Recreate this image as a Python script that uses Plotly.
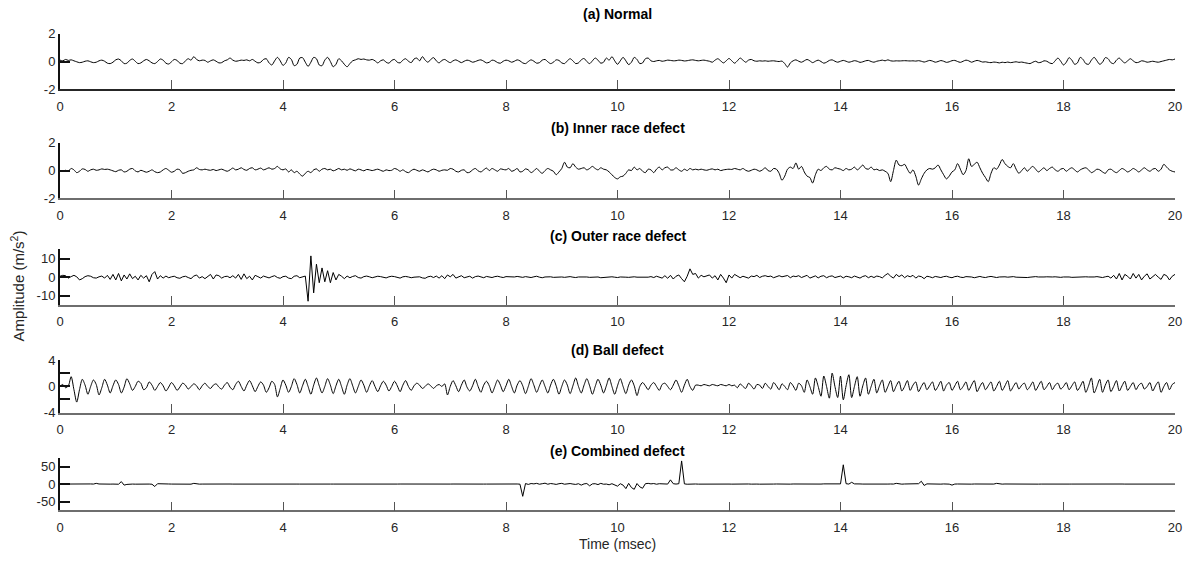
import numpy as np
import plotly.graph_objects as go

# ---------------- data (0.05 ms sampling) ----------------
DT = 0.05
normal = [
 0.10, 0.05, 0.15, 0.08, 0.12, 0.05, -0.02, -0.08, -0.05, 0.02, 0.05, -0.02, -0.08, -0.05, 0.05, 0.10, 0.02, -0.12, -0.15, -0.05,
 0.12, 0.18, 0.05, -0.15, -0.12, 0.08, 0.18, 0.02, -0.15, -0.10, 0.05, 0.15, 0.05, -0.10, -0.15, 0.00, 0.18, 0.10, -0.12, -0.18,
 -0.02, 0.15, 0.08, -0.12, -0.15, 0.05, 0.20, 0.10, 0.35, 0.15, 0.05, 0.10, 0.08, -0.05, 0.05, 0.12, 0.02, -0.10, -0.08, 0.05,
 0.12, 0.25, 0.10, 0.02, 0.05, 0.10, 0.08, 0.12, 0.05, 0.15, 0.02, -0.10, -0.05, 0.15, 0.20, -0.10, -0.25, 0.05, 0.30, 0.05,
 -0.28, -0.10, 0.30, 0.15, -0.30, -0.20, 0.25, 0.28, -0.05, -0.35, -0.05, 0.30, 0.20, -0.25, -0.30, 0.10, 0.30, 0.00, -0.38, -0.20,
 0.20, 0.05, -0.20, -0.38, -0.15, 0.05, 0.12, 0.20, 0.15, 0.18, 0.12, 0.10, 0.15, 0.05, -0.10, 0.05, 0.12, -0.05, -0.12, 0.08,
 0.15, -0.05, -0.10, 0.10, 0.20, 0.02, -0.08, 0.18, 0.25, 0.05, 0.35, 0.10, -0.05, 0.15, 0.28, 0.05, -0.10, 0.08, 0.15, 0.02,
 -0.08, 0.05, 0.12, 0.02, -0.08, 0.02, 0.10, 0.05, -0.05, 0.00, 0.08, 0.12, 0.02, -0.10, -0.05, 0.10, 0.05, -0.08, -0.12, 0.02,
 0.10, 0.05, -0.05, 0.02, 0.12, 0.05, -0.10, -0.15, 0.00, 0.12, 0.02, -0.12, -0.08, 0.10, 0.15, -0.02, -0.15, -0.05, 0.12, 0.08,
 -0.10, -0.15, 0.05, 0.20, 0.05, -0.15, -0.10, 0.12, 0.22, 0.00, -0.15, 0.05, 0.25, 0.10, -0.12, -0.05, 0.25, 0.10, 0.35, 0.05,
 -0.20, 0.05, 0.30, 0.05, -0.22, -0.05, 0.30, 0.15, -0.15, -0.10, 0.20, 0.25, 0.05, 0.00, 0.05, 0.08, 0.02, 0.05, 0.10, 0.08,
 0.05, 0.06, 0.10, 0.08, 0.04, 0.06, 0.10, 0.12, 0.08, 0.05, 0.08, 0.10, 0.06, 0.02, -0.05, 0.10, 0.20, 0.05, -0.10, 0.05,
 0.22, 0.05, -0.12, 0.05, 0.25, 0.10, -0.05, 0.10, 0.15, 0.05, 0.02, 0.05, 0.03, 0.05, 0.02, 0.04, 0.05, 0.02, 0.00, 0.03,
 -0.15, -0.40, -0.10, 0.05, 0.12, 0.02, -0.05, 0.05, 0.15, 0.05, -0.08, 0.02, 0.10, 0.00, -0.12, -0.05, 0.08, 0.12, 0.02, -0.05,
 0.02, 0.08, 0.02, -0.05, 0.00, 0.06, 0.02, -0.06, -0.02, 0.05, 0.08, 0.00, -0.05, 0.02, 0.06, 0.10, 0.05, 0.12, 0.05, 0.03,
 0.05, 0.04, 0.05, 0.06, 0.05, 0.04, 0.05, 0.03, 0.06, 0.02, -0.04, 0.02, 0.08, 0.03, -0.05, 0.00, 0.07, 0.02, -0.06, -0.02,
 0.06, 0.08, 0.00, -0.06, 0.02, 0.10, 0.05, -0.05, 0.02, 0.08, 0.03, -0.04, -0.02, -0.06, -0.08, -0.04, -0.06, -0.10, -0.05, -0.08,
 -0.04, -0.08, -0.05, -0.02, -0.06, -0.04, -0.08, -0.12, -0.15, -0.05, 0.02, -0.08, -0.05, 0.05, 0.02, -0.10, -0.15, 0.05, 0.25, 0.02,
 -0.25, -0.05, 0.28, 0.10, -0.20, -0.10, 0.30, 0.15, -0.15, -0.20, 0.10, 0.30, 0.05, -0.20, -0.05, 0.28, 0.20, -0.08, -0.15, 0.10,
 0.25, 0.05, -0.10, 0.05, 0.20, 0.05, -0.08, -0.05, 0.05, 0.02, -0.05, -0.02, 0.02, -0.02, -0.05, 0.00, 0.05, 0.10, 0.15, 0.12,
 0.18,
]

inner_race = [
 0.00, -0.05, 0.02, -0.02, 0.15, 0.05, -0.15, -0.05, 0.12, 0.08, -0.05, 0.05, 0.10, 0.02, 0.05, 0.12, 0.08, 0.10, 0.05, -0.02,
 -0.08, 0.02, 0.05, -0.10, -0.05, 0.10, 0.15, -0.02, -0.10, 0.02, -0.05, -0.12, -0.05, 0.05, -0.08, -0.15, -0.10, 0.05, 0.15, 0.02,
 -0.12, -0.05, 0.10, 0.05, -0.20, -0.15, -0.05, 0.02, 0.05, 0.20, 0.08, 0.05, 0.10, 0.05, 0.02, 0.08, 0.00, 0.05, 0.10, 0.02,
 -0.05, 0.05, 0.18, 0.05, 0.10, 0.20, 0.08, 0.02, 0.15, 0.20, 0.05, 0.10, 0.18, 0.05, 0.12, 0.20, 0.10, 0.15, 0.30, 0.12,
 0.05, 0.12, -0.10, 0.05, -0.15, -0.05, -0.25, -0.40, -0.20, -0.05, -0.15, 0.05, 0.12, -0.05, 0.10, 0.15, 0.05, 0.10, -0.02, 0.05,
 0.15, 0.05, 0.10, 0.02, 0.12, 0.05, -0.02, 0.10, 0.05, -0.02, 0.08, 0.05, 0.00, 0.05, 0.10, 0.02, -0.05, 0.05, 0.00, 0.02,
 0.15, 0.08, -0.05, 0.05, -0.08, -0.15, 0.00, 0.10, 0.02, -0.05, 0.05, -0.02, -0.10, 0.02, 0.10, 0.05, -0.05, 0.02, 0.05, 0.02,
 0.15, 0.10, -0.05, -0.10, 0.02, 0.05, -0.15, -0.12, 0.05, 0.15, -0.02, -0.10, 0.05, 0.18, 0.00, 0.15, 0.05, -0.05, 0.12, 0.08,
 0.05, 0.15, -0.05, 0.02, 0.15, -0.10, -0.05, 0.12, 0.05, -0.15, -0.02, 0.15, -0.05, -0.20, 0.00, 0.15, 0.05, -0.05, -0.30, -0.10,
 0.15, 0.60, 0.25, 0.20, 0.50, 0.25, 0.10, 0.15, 0.20, 0.05, 0.15, 0.30, 0.15, 0.05, 0.20, 0.10, 0.05, -0.10, -0.30, -0.50,
 -0.60, -0.45, -0.40, -0.20, 0.05, 0.00, 0.25, 0.05, 0.15, -0.05, -0.15, 0.10, 0.05, -0.15, 0.10, 0.25, 0.05, 0.20, 0.25, 0.05,
 0.05, 0.20, 0.05, -0.05, 0.10, 0.00, 0.15, 0.05, 0.10, 0.05, 0.10, 0.05, 0.02, 0.08, 0.12, 0.05, 0.10, 0.00, 0.05, 0.08,
 0.10, 0.08, 0.15, 0.10, 0.05, 0.15, 0.02, -0.05, 0.02, 0.10, 0.05, -0.05, 0.05, 0.20, 0.00, -0.05, 0.15, 0.10, -0.20, -0.70,
 -0.40, 0.10, 0.25, 0.15, 0.55, 0.10, 0.30, -0.10, -0.40, -0.50, -0.90, -0.30, 0.10, 0.00, 0.20, 0.30, 0.10, 0.05, 0.20, 0.15,
 0.10, 0.00, 0.15, 0.05, 0.10, 0.25, 0.05, 0.20, 0.40, 0.15, 0.10, 0.25, 0.05, 0.10, 0.00, 0.05, -0.05, -0.20, -0.80, 0.00,
 0.75, 0.40, 0.35, 0.45, 0.10, -0.20, 0.05, -0.40, -1.05, -0.60, -0.20, 0.05, 0.15, 0.10, 0.20, 0.40, 0.05, -0.30, -0.60, -0.40,
 -0.10, 0.05, 0.50, 0.10, -0.30, 0.00, 0.85, 0.30, 0.45, 0.60, 0.20, -0.20, -0.50, -0.80, -0.20, 0.20, 0.10, 0.40, 0.80, 0.50,
 0.30, 0.20, 0.50, 0.10, -0.20, 0.00, 0.20, -0.05, 0.15, 0.30, 0.10, -0.10, 0.05, 0.20, 0.00, 0.15, 0.25, 0.05, -0.05, 0.10,
 0.15, -0.05, 0.10, 0.20, 0.05, -0.10, 0.05, 0.15, 0.20, 0.05, -0.15, -0.05, 0.10, 0.05, -0.10, -0.20, 0.05, 0.10, -0.05, -0.15,
 0.00, 0.15, 0.05, -0.10, 0.00, 0.15, 0.05, -0.10, 0.05, 0.20, 0.05, -0.05, 0.10, 0.15, -0.05, 0.10, 0.45, 0.25, 0.05, -0.05,
 -0.10,
]

outer_race = [
 0.5, 1.0, 0.8, -0.5, 0.3, 1.0, 0.2, -1.5, -0.8, 0.3, 0.8, 0.5, -0.3, -0.5, 0.2, 0.6, -0.5, 1.0, -1.2, 1.5,
 -1.5, 2.0, -2.0, 1.2, -1.0, 1.8, -0.8, 0.5, -1.5, 1.0, -0.5, 0.8, -2.5, 1.5, 3.0, -1.0, 0.8, -0.5, 0.6, -0.3,
 0.2, 0.5, -0.3, -0.6, 0.2, 0.5, -0.2, -0.8, 0.6, 1.2, -0.5, 0.3, -0.8, 0.5, 1.5, -1.0, 1.2, 0.8, -0.5, 0.3,
 0.5, -0.3, 0.8, -0.5, 1.5, -1.2, 1.8, -0.8, 0.5, -1.5, 1.0, 0.3, -0.5, 0.6, 0.2, -0.4, 0.3, 0.8, -0.2, -0.6,
 0.3, 0.5, -0.5, -0.8, 0.5, 0.8, -0.3, 0.2, 0.6, -13.0, 11.5, -8.5, 7.0, -3.0, 5.0, -2.5, 3.5, -3.0, 2.5, -1.5,
 1.5, 0.5, -0.8, 0.6, -0.3, 0.4, 0.8, -0.2, -0.5, 0.3, 0.6, 0.2, -0.3, 0.1, 0.5, 0.3, -0.2, -0.4, 0.2, 0.5,
 0.3, -0.2, -0.5, 0.2, 0.4, 0.1, -0.3, 0.0, 0.3, 0.2, -0.4, -0.6, 0.2, 0.5, -0.2, 0.6, -0.5, 0.8, -0.8, 1.2,
 0.2, 1.5, -0.5, 0.3, 0.8, -0.3, 0.2, 0.5, -0.5, 0.3, 0.6, 0.2, -0.3, 0.4, 0.2, -0.2, 0.3, 0.5, 0.1, -0.2,
 0.3, 0.2, -0.2, 0.1, 0.4, 0.2, -0.1, 0.3, 0.1, -0.2, 0.2, 0.5, 0.0, -0.3, 0.1, 0.3, 0.2, -0.1, 0.1, 0.2,
 0.1, -0.1, 0.2, 0.3, 0.0, -0.2, 0.1, 0.2, 0.3, 0.1, -0.1, 0.0, 0.2, 0.1, -0.3, -0.2, 0.1, 0.3, 0.2, 0.0,
 -0.2, 0.1, 0.2, 0.0, -0.1, 0.1, 0.2, 0.0, -0.1, 0.2, 0.1, 0.0, 0.3, -0.2, 0.5, 0.2, -0.5, 0.8, -0.6, 1.0,
 -1.0, 0.5, 1.2, -0.8, -2.5, 0.5, 4.5, 1.5, 2.0, -0.5, 1.0, 0.2, 0.5, 1.2, -0.5, 0.8, -1.5, 1.5, -0.5, -3.0,
 1.2, -0.5, 1.5, 0.8, -0.3, 0.5, 0.2, -0.5, 0.6, 0.3, 1.0, -0.2, 0.5, 0.8, 0.3, 0.6, -0.3, 0.4, 0.8, 0.2,
 0.5, 0.9, -0.3, 0.6, 0.3, 0.8, -0.2, 0.5, 1.0, -0.5, 0.3, 0.7, -0.4, 0.5, 0.8, -0.3, 0.4, 0.7, -0.2, 0.3,
 0.6, -0.4, 0.5, 0.2, -0.3, 0.6, 0.1, -0.5, 0.4, 0.8, -0.3, 0.5, -0.2, 0.6, 0.3, -0.4, 1.0, 2.0, 0.5, -0.5,
 1.5, 0.3, 1.2, -0.3, 0.8, 0.2, 1.0, -0.5, 0.6, 0.3, -0.8, 0.5, 0.2, -0.3, 0.4, 0.2, -0.2, 0.3, 0.5, 0.0,
 -0.3, 0.3, 0.5, 0.0, -0.2, 0.3, 0.4, 0.1, -0.3, 0.2, 0.4, 0.0, -0.2, 0.2, 0.4, 0.1, -0.2, 0.1, 0.3, 0.2,
 0.0, 0.2, 0.3, 0.0, -0.1, 0.2, 0.1, -0.2, 0.0, 0.2, 0.3, 0.1, -0.1, 0.1, 0.2, 0.0, 0.1, 0.2, 0.0, -0.1,
 0.1, 0.2, 0.1, -0.1, 0.0, 0.2, 0.1, 0.0, 0.2, 0.1, -0.1, 0.1, 0.3, 0.0, -0.2, 0.2, 0.5, -0.5, 1.0, -1.0,
 2.0, -1.5, 1.5, 0.5, -1.0, 2.0, -0.5, 1.5, -1.5, 0.5, 1.8, -1.0, 0.2, 1.5, 0.0, -1.2, 1.5, 0.8, -1.5, 0.5,
 1.5,
]

ball = [
 0.0, 0.3, -0.2, 0.1, 1.5, -0.5, -2.4, -0.5, 1.1, 0.2, -1.2, 0.0, 1.0, 0.3, -1.3, -0.2, 1.1, 0.2, -1.0, 0.1,
 1.0, 0.3, -1.0, -0.1, 1.2, 0.4, -0.6, 0.0, 0.8, 0.5, -0.5, -0.2, 0.7, 0.2, -0.6, 0.0, 0.6, 0.1, -0.7, -0.1,
 0.6, 0.1, -0.6, -0.1, 0.5, 0.2, -0.4, 0.0, 0.4, 0.1, -0.5, 0.1, 0.5, 0.0, -0.3, 0.2, 0.4, -0.1, -0.4, 0.2,
 0.6, -0.1, -0.5, 0.3, 0.8, 0.0, -0.7, 0.2, 0.9, 0.1, -0.8, 0.0, 0.7, 0.2, -0.9, -0.2, 0.8, 0.3, -1.6, -0.3,
 1.0, 0.2, -0.9, 0.0, 1.2, 0.3, -1.0, 0.1, 1.1, 0.0, -1.2, 0.2, 1.3, 0.1, -1.0, 0.0, 1.2, 0.2, -1.1, 0.1,
 1.1, 0.0, -1.2, 0.2, 1.2, 0.1, -1.0, 0.0, 1.0, 0.2, -0.9, 0.1, 0.9, 0.0, -0.8, 0.1, 0.8, 0.2, -0.7, 0.0,
 0.8, 0.1, -0.8, 0.2, 0.9, 0.0, -0.6, 0.1, 0.5, 0.2, -0.3, 0.0, 0.4, 0.1, -0.3, 0.1, 0.3, 0.0, 0.4, -1.3,
 0.0, 0.9, 0.1, -0.8, 0.2, 1.0, -0.1, -0.7, 0.1, 1.1, 0.0, -0.9, 0.2, 0.8, 0.1, -1.0, 0.0, 1.0, 0.2, -0.8,
 0.1, 1.1, 0.0, -1.0, 0.2, 0.9, 0.1, -1.1, 0.0, 1.2, 0.2, -0.9, 0.1, 1.0, 0.0, -1.0, 0.2, 1.1, 0.1, -1.2,
 0.0, 1.0, 0.2, -1.1, 0.1, 1.3, 0.0, -1.0, 0.2, 1.2, 0.1, -1.2, 0.0, 1.1, 0.2, -1.0, 0.1, 1.3, 0.0, -1.2,
 0.1, 1.2, 0.0, -1.1, 0.2, 1.0, 0.1, -1.4, 0.0, 0.6, 0.1, -0.5, 0.2, 0.6, 0.0, -0.6, 0.3, 0.5, 0.0, -0.5,
 0.2, 1.0, 0.1, -0.9, 0.2, 1.1, 0.0, -0.6, 0.2, 0.2, 0.1, 0.3, 0.2, 0.1, 0.3, 0.2, 0.1, 0.3, 0.2, 0.1,
 0.3, 0.1, 0.2, -0.2, 0.4, 0.0, -0.3, 0.5, 0.1, -0.4, 0.3, 0.2, -0.3, 0.5, 0.0, -0.4, 0.6, 0.1, -0.5, 0.4,
 0.0, -0.5, 0.6, 0.1, -0.6, 0.5, 0.1, -0.9, 1.0, 0.0, -1.2, 1.3, 0.0, -1.5, 1.6, 0.0, -1.8, 2.05, 0.0, -1.7,
 1.6, -2.05, 0.1, 1.8, -1.7, 0.0, 1.5, -1.5, 0.1, 1.3, -1.2, 0.0, 1.1, -1.0, 0.1, 1.0, -0.9, 0.0, 0.9, -0.8,
 0.1, 0.8, -0.7, 0.0, 0.9, -0.6, 0.2, 0.7, -0.8, 0.0, 0.6, -0.5, 0.1, 0.7, -0.6, 0.0, 0.8, -0.7, 0.2, 0.6,
 -0.6, 0.1, 0.8, -0.5, 0.0, 0.7, -0.6, 0.2, 0.9, -0.8, 0.0, 0.6, -0.5, 0.1, 0.7, -0.7, 0.0, 0.8, -0.6, 0.1,
 0.9, -0.7, 0.0, 0.6, -0.4, 0.2, 0.5, -0.5, 0.0, 0.7, -0.6, 0.1, 0.8, -0.5, 0.0, 0.6, -0.5, 0.2, 0.5, -0.4,
 0.0, 0.6, -0.5, 0.1, 0.7, -0.6, 0.0, 0.8, -0.9, 0.1, 1.3, -1.0, 0.0, 1.1, -0.9, 0.2, 1.0, -0.8, 0.0, 0.9,
 -0.7, 0.1, 0.8, -0.6, 0.0, 0.6, -0.5, 0.2, 0.5, -0.4, 0.0, 0.6, -0.7, 0.1, 0.7, -0.9, 0.0, 0.6, -0.5, 0.3,
 0.6,
]

combined = [
 0.0, 0.2, -0.2, 0.0, 0.3, 0.0, -0.3, 0.0, 0.2, -0.2, 0.0, 0.3, 0.0, 2.0, 0.2, -0.3, 0.0, 0.2, -0.2, 0.0,
 0.3, -0.5, 7.0, -3.0, -1.0, 0.5, 0.0, -0.3, 0.2, 0.0, -0.2, 0.3, 0.0, -0.5, -7.0, 1.0, 0.3, -0.2, 0.0, 0.2,
 0.0, -0.2, 0.3, 0.0, -0.2, 0.2, 0.0, -0.3, 2.0, 0.3, -0.2, 0.0, 0.2, -0.2, 0.0, 0.2, 0.0, -0.2, 0.1, 0.0,
 0.0, 0.1, -0.1, 0.0, 0.2, 0.0, -0.1, 0.1, 0.0, -0.2, 0.0, 0.1, 0.0, -0.1, 0.1, 0.0, 0.2, 0.0, -0.1, 0.0,
 0.1, 0.0, -0.1, 0.0, 0.1, 0.0, -0.1, 0.1, 0.0, 0.0, -0.1, 0.0, 0.1, 0.0, -0.1, 0.0, 0.1, 0.0, 0.0, -0.1,
 0.0, 0.1, 0.0, -0.1, 0.0, 0.1, 0.0, 0.0, -0.1, 0.1, 0.0, -0.1, 0.0, 0.1, 0.0, -0.1, 0.0, 0.1, 0.0, 0.0,
 -0.1, 0.0, 0.1, 0.0, -0.1, 0.0, 0.1, 0.0, 0.0, -0.1, 0.1, 0.0, -0.1, 0.0, 0.1, 0.0, -0.1, 0.1, 0.0, -0.1,
 0.0, 0.1, -0.1, 0.0, 0.2, -0.1, 0.0, 0.1, -0.2, 0.0, 0.1, 0.2, -0.1, 0.0, 0.2, -0.2, 0.0, 0.1, -0.1, 0.2,
 0.0, 0.1, -0.1, 0.0, 0.2, -0.3, -35.0, 1.5, -1.0, 1.5, 0.5, 2.0, -0.5, 1.0, 2.5, -0.5, 1.5, 0.5, -1.0, 1.0,
 2.0, -0.5, 0.5, 1.5, 0.0, -1.0, 1.0, -3.0, 0.5, 1.5, -5.0, 0.5, 1.0, -1.5, 2.0, -0.5, 0.0, -2.0, 1.0, -3.0,
 -6.0, 1.0, -3.0, -13.0, 2.0, -10.0, -15.0, 1.5, -8.0, -12.0, 1.0, 2.0, 0.5, 1.5, -0.5, 1.0, 0.5, 1.5, 0.0, 12.0,
 1.0, 0.0, 1.0, 66.0, 0.5, -0.5, 0.3, 0.0, 0.2, -0.2, 0.0, 0.3, 0.0, -0.2, 0.2, 0.0, -0.3, 0.2, 0.0, 0.1,
 0.0, -0.2, 0.2, 0.0, 0.3, -0.3, 0.0, 0.2, -0.2, 0.5, 0.0, -0.3, 0.2, 0.0, 0.3, -0.2, 0.0, 0.2, -0.2, 0.0,
 0.3, 0.0, -0.2, 0.2, 0.0, -0.3, 0.5, 0.0, -0.2, 0.3, 0.0, 0.2, -0.3, 0.0, 0.5, 0.2, -0.2, 0.0, 0.3, 0.0,
 0.5, 55.0, 1.0, 0.0, 5.0, 0.5, -0.5, 0.3, 0.0, -0.2, 0.3, 0.0, -0.3, 0.2, 0.0, 0.3, -0.2, 0.0, 0.2, 0.0,
 2.0, 0.0, -0.3, 0.2, 0.0, -0.2, 0.3, 0.5, 1.0, 8.0, -4.0, 0.5, 0.0, -0.3, 0.2, 0.0, -0.2, 0.3, 0.0, -0.2,
 -3.0, 0.0, 0.2, -0.2, 0.0, 0.3, 0.0, -0.2, 0.2, 0.0, -0.3, 0.2, 0.0, 0.3, -0.2, 0.0, 2.0, 0.0, -0.2, 0.2,
 0.0, -0.1, 0.2, 0.0, -0.2, 0.1, 0.0, 0.2, -0.1, 0.0, 0.1, -0.2, 0.0, 0.2, 0.0, -0.1, 0.1, 0.0, -0.2, 0.1,
 0.0, 0.2, -0.1, 0.0, 0.1, -0.2, 0.0, 0.1, 0.0, -0.1, 0.2, 0.0, -0.1, 0.1, 0.0, -0.2, 0.1, 0.0, 0.1, -0.1,
 0.0, 0.1, -0.1, 0.0, 0.2, 0.0, -0.1, 0.1, 0.0, -0.1, 0.0, 0.1, 0.0, -0.2, 0.1, 0.0, 0.1, -0.1, 0.0, 0.1,
 0.0,
]

titles = ["(a) Normal", "(b) Inner race defect", "(c) Outer race defect", "(d) Ball defect", "(e) Combined defect"]
y_ranges = [[-2, 2], [-2, 2], [-15, 15], [-4, 4], [-75, 75]]
y_tickvals = [[-2, 0, 2], [-2, 0, 2], [-10, 0, 10], [-4, 0, 4], [-50, 0, 50]]
y_minorvals = [[], [], [], [-2, 2], []]
x_tickvals = [0, 2, 4, 6, 8, 10, 12, 14, 16, 18, 20]
signals = [normal, inner_race, outer_race, ball, combined]
shapes_ = ["spline", "spline", "linear", "spline", "linear"]

# ---------------- layout geometry (pixels) ----------------
W, H = 1183, 568
ML, MR = 60, 8
panel_px = [(27.5, 84.5), (139.5, 196.5), (249, 306), (363, 416.5), (463, 517)]
title_px = [7, 124.5, 235, 352, 456]


def py(px):
    return 1 - px / H


FONT = "Arial, 'Liberation Sans', sans-serif"
fig = go.Figure()
annotations = []
layout = {}
for i, (sig, (top, bot)) in enumerate(zip(signals, panel_px)):
    n = i + 1
    t = np.arange(len(sig)) * DT
    fig.add_trace(go.Scatter(
        x=t, y=sig, mode="lines",
        line=dict(color="black", width=1.0, shape=shapes_[i], smoothing=0.8),
        xaxis="x" if n == 1 else f"x{n}", yaxis="y" if n == 1 else f"y{n}",
        showlegend=False, hoverinfo="skip"))
    xname = "xaxis" if n == 1 else f"xaxis{n}"
    yname = "yaxis" if n == 1 else f"yaxis{n}"
    layout[xname] = dict(
        domain=[0, 1], anchor="y" if n == 1 else f"y{n}", range=[0, 20],
        tickvals=x_tickvals, ticktext=[str(v) for v in x_tickvals],
        ticks="inside", ticklen=9, tickwidth=1.3, tickcolor="#555555",
        ticklabelstandoff=4,
        showline=True, linecolor="#262626" if n == 1 else "#6e6e6e",
        linewidth=2 if n == 1 else 1.5,
        showgrid=False, zeroline=False,
        tickfont=dict(family=FONT, size=13, color="#262626"))
    ydict = dict(
        domain=[py(bot), py(top)], anchor="x" if n == 1 else f"x{n}",
        range=y_ranges[i], tickvals=y_tickvals[i], ticktext=[str(v) for v in y_tickvals[i]],
        ticks="inside", ticklen=10, tickwidth=2, tickcolor="#111111",
        showline=True, linecolor="#111111", linewidth=2,
        showgrid=False, zeroline=False,
        tickfont=dict(family=FONT, size=13, color="#262626"))
    if y_minorvals[i]:
        ydict["minor"] = dict(tickmode="array", tickvals=y_minorvals[i], ticks="inside",
                              ticklen=10, tickwidth=2, tickcolor="#111111", showgrid=False)
    layout[yname] = ydict
    annotations.append(dict(
        text=f"<b>{titles[i]}</b>", x=0.5, y=py(title_px[i]), xref="paper", yref="paper",
        xanchor="center", yanchor="middle", showarrow=False,
        font=dict(family=FONT, size=14, color="black")))

annotations.append(dict(
    text="Time (msec)", x=0.5, y=py(552), xref="paper", yref="paper",
    xanchor="center", yanchor="middle", showarrow=False,
    font=dict(family=FONT, size=14, color="#262626")))
annotations.append(dict(
    text="Amplitude (m/s<sup>2</sup>)", x=(17 - ML) / (W - ML - MR), y=py(287),
    xref="paper", yref="paper", xanchor="center", yanchor="middle",
    textangle=-90, showarrow=False,
    font=dict(family=FONT, size=15, color="#262626")))

fig.update_layout(
    width=W, height=H,
    margin=dict(l=ML, r=MR, t=0, b=0),
    paper_bgcolor="white", plot_bgcolor="white",
    annotations=annotations,
    **layout)

fig.write_html("out.html", config={"displayModeBar": False},
               post_script="document.body.style.margin='0';document.body.style.overflow='hidden';")
